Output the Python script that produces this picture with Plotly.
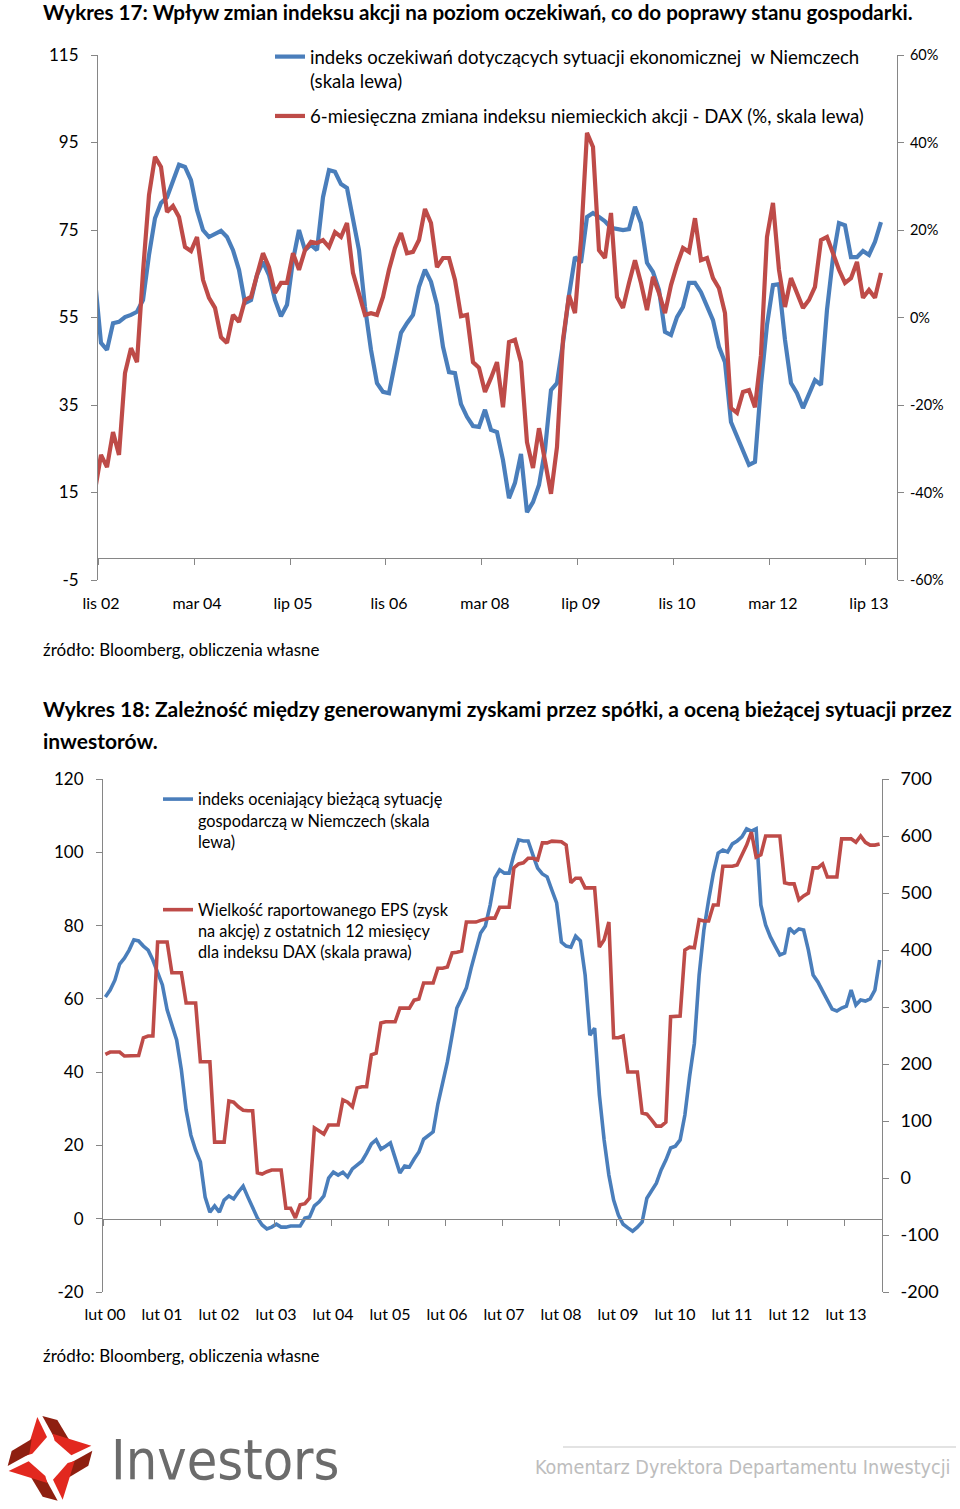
import plotly.graph_objects as go
import pandas as pd

W, H = 960, 1509
FONT = "Lato"
NARROW = "Liberation Sans Narrow, DejaVu Sans Condensed, sans-serif"

# ---------------- Wykres 17 data (monthly, Oct 2002 - Sep 2013) ----------------
months17 = [str(p) for p in pd.period_range("2002-10", periods=132, freq="M")]
labels17 = ["lis 02", "mar 04", "lip 05", "lis 06", "mar 08", "lip 09", "lis 10", "mar 12", "lip 13"]
expect_idx = [63.6,
    49.2, 47.6, 53.7, 54.0, 55.1, 55.6, 56.3, 59.0, 69.3, 77.7,
    81.2, 82.5, 86.4, 89.9, 89.4, 86.4, 79.6, 75.0, 73.4, 74.1,
    74.8, 73.4, 70.4, 65.9, 58.3, 59.0, 64.7, 67.7, 64.7, 59.0,
    55.3, 57.9, 68.1, 75.0, 70.4, 71.6, 70.4, 82.5, 88.7, 88.3,
    85.5, 84.6, 77.3, 70.4, 57.4, 47.6, 40.0, 38.0, 37.7, 44.1,
    51.5, 53.7, 55.6, 62.0, 65.9, 63.2, 57.9, 48.3, 42.5, 42.3,
    35.2, 32.3, 30.2, 30.0, 33.9, 29.3, 28.8, 22.4, 13.7, 17.2,
    23.8, 10.5, 12.8, 16.7, 24.7, 38.4, 40.0, 49.2, 60.1, 68.8,
    67.5, 78.0, 78.9, 78.0, 77.0, 75.5, 75.2, 75.0, 75.2, 80.3,
    76.6, 67.5, 65.4, 61.3, 51.7, 51.0, 55.1, 57.4, 62.9, 62.9,
    60.8, 57.4, 54.4, 48.3, 44.8, 31.1, 27.7, 24.7, 21.3, 22.0,
    39.6, 53.3, 62.4, 62.6, 49.9, 40.0, 37.7, 34.3, 37.3, 40.7,
    39.6, 56.7, 68.6, 76.6, 76.1, 68.8, 68.8, 70.2, 69.3, 72.3,
    76.8]
dax_6m = [-39.5,
    -31.4, -34.2, -26.2, -31.4, -12.7, -7.0, -10.2, 10.4, 28.0, 36.7,
    34.4, 24.1, 25.5, 23.0, 16.1, 15.2, 18.4, 8.6, 4.5, 2.2,
    -4.5, -5.8, 0.6, -1.0, 4.0, 4.7, 9.7, 14.7, 11.5, 5.6,
    7.9, 7.9, 14.7, 10.9, 15.4, 17.3, 17.0, 17.7, 16.1, 19.5,
    18.4, 21.6, 10.2, 5.8, 0.6, 1.0, 0.6, 4.7, 10.9, 15.9,
    19.3, 14.7, 15.0, 17.7, 24.8, 21.6, 11.5, 13.6, 13.6, 8.6,
    0.3, 0.6, -10.2, -11.5, -17.0, -13.8, -10.2, -20.5, -5.6, -5.1,
    -10.2, -28.5, -34.4, -25.3, -32.6, -40.3, -29.6, -5.1, 5.1, 1.0,
    17.7, 42.2, 39.0, 15.4, 13.6, 23.9, 4.7, 2.2, 7.9, 13.1,
    7.9, 1.7, 9.3, 5.6, 1.0, 7.4, 12.0, 15.9, 15.0, 22.7,
    13.1, 13.6, 9.0, 6.7, 1.0, -20.7, -21.8, -17.0, -16.6, -20.5,
    -8.6, 18.4, 26.2, 10.9, 2.4, 9.0, 5.6, 2.2, 4.0, 7.0,
    17.7, 18.4, 14.7, 10.9, 7.9, 9.0, 12.7, 4.5, 6.3, 4.5,
    10.2]
left17_ticks = [-5, 15, 35, 55, 75, 95, 115]
right17_ticks = [-60, -40, -20, 0, 20, 40, 60]

# ---------------- Wykres 18 data (monthly, Feb 2000 - Sep 2013) ----------------
months18 = [str(p) for p in pd.period_range("2000-02", periods=164, freq="M")]
labels18 = ["lut %02d" % y for y in range(0, 14)]
current_idx = [
    60.5, 62.4, 65.1, 69.5, 71.1, 73.3, 76.1, 75.8, 74.4, 73.3,
    70.6, 67.3, 63.8, 57.0, 52.9, 48.8, 40.6, 29.7, 22.8, 18.7,
    15.5, 5.9, 1.8, 3.5, 1.8, 5.1, 6.2, 5.4, 7.3, 8.9,
    5.9, 3.2, 0.2, -1.7, -2.8, -2.3, -1.5, -2.3, -2.3, -2.0,
    -2.0, -2.0, 0.2, 0.5, 3.5, 4.6, 6.2, 11.1, 12.7, 11.9,
    12.7, 11.4, 13.6, 14.7, 15.7, 17.9, 20.4, 21.5, 19.0, 19.8,
    20.7, 16.6, 12.5, 14.4, 14.1, 16.3, 18.2, 21.7, 22.8, 23.7,
    31.3, 37.3, 42.8, 50.1, 57.5, 60.2, 63.0, 68.4, 73.3, 78.0,
    79.9, 85.6, 93.0, 95.2, 94.3, 94.3, 99.3, 103.4, 103.1, 103.1,
    99.3, 95.7, 94.1, 93.3, 89.7, 86.2, 75.5, 74.4, 74.1, 77.1,
    75.8, 66.5, 50.1, 52.0, 33.8, 21.5, 11.9, 5.1, 1.0, -1.5,
    -2.5, -3.4, -2.3, -0.9, 5.6, 7.8, 9.7, 13.3, 16.0, 19.3,
    19.8, 21.5, 28.3, 38.9, 47.9, 66.5, 78.8, 87.0, 94.3, 99.8,
    100.6, 100.1, 102.3, 103.1, 104.2, 106.4, 105.8, 106.4, 85.6, 80.2,
    76.9, 74.4, 72.0, 72.5, 79.3, 78.0, 79.1, 78.8, 73.3, 66.5,
    64.6, 62.1, 59.7, 57.2, 56.7, 57.5, 58.0, 62.4, 58.3, 59.7,
    59.4, 60.0, 62.4, 70.6]
eps_12m = [
    217, 221, 221, 221, 214, 214, 214, 215, 246, 249,
    249, 414, 414, 414, 360, 360, 360, 307, 307, 307,
    204, 204, 204, 63, 63, 63, 135, 133, 125, 119,
    118, 118, 9, 7, 11, 14, 14, 14, -53, -53,
    -70, -47, -45, -35, 88, 82, 77, 93, 93, 93,
    137, 133, 125, 158, 160, 160, 216, 219, 272, 274,
    274, 274, 298, 298, 298, 312, 314, 342, 342, 342,
    368, 368, 370, 395, 396, 398, 449, 449, 449, 452,
    454, 456, 456, 475, 475, 475, 544, 551, 553, 561,
    561, 558, 588, 588, 591, 590, 590, 584, 518, 526,
    526, 509, 509, 509, 405, 418, 449, 246, 246, 249,
    186, 186, 186, 114, 112, 102, 91, 91, 98, 283,
    284, 284, 400, 405, 404, 453, 451, 451, 479, 479,
    547, 547, 547, 549, 567, 584, 607, 563, 567, 600,
    600, 600, 600, 518, 516, 516, 488, 495, 500, 544,
    544, 551, 528, 528, 528, 595, 595, 595, 589, 600,
    589, 584, 584, 586]
left18_ticks = [-20, 0, 20, 40, 60, 80, 100, 120]
right18_ticks = [-200, -100, 0, 100, 200, 300, 400, 500, 600, 700]

BLUE = "#4A7EBB"
RED = "#BE4B48"
AX = "#868686"


def fx(x):
    return x / W


def fy(y):
    return 1 - y / H


x17 = list(range(len(months17)))
x18 = list(range(len(months18)))

fig = go.Figure()
fig.add_trace(go.Scatter(x=x17, y=expect_idx, mode="lines", xaxis="x", yaxis="y",
                         line=dict(color=BLUE, width=4.2), legend="legend", legendgroup="a",
                         name="indeks oczekiwań dotyczących sytuacji ekonomicznej  w Niemczech<br>(skala lewa)",
                         customdata=months17, hovertemplate="%{customdata}: %{y}<extra></extra>"))
fig.add_trace(go.Scatter(x=x17, y=dax_6m, mode="lines", xaxis="x", yaxis="y2",
                         line=dict(color=RED, width=4.2), legend="legend", legendgroup="b",
                         name="6-miesięczna zmiana indeksu niemieckich akcji - DAX (%, skala lewa)",
                         customdata=months17, hovertemplate="%{customdata}: %{y}%<extra></extra>"))
fig.add_trace(go.Scatter(x=x18, y=current_idx, mode="lines", xaxis="x2", yaxis="y3",
                         line=dict(color=BLUE, width=3.6), legend="legend2", legendgroup="c",
                         name="indeks oceniający bieżącą sytuację<br>gospodarczą w Niemczech (skala<br>lewa)",
                         customdata=months18, hovertemplate="%{customdata}: %{y}<extra></extra>"))
fig.add_trace(go.Scatter(x=x18, y=eps_12m, mode="lines", xaxis="x2", yaxis="y4",
                         line=dict(color=RED, width=3.6), legend="legend2", legendgroup="d",
                         name="Wielkość raportowanego EPS (zysk<br>na akcję) z ostatnich 12 miesięcy<br>dla indeksu DAX (skala prawa)",
                         customdata=months18, hovertemplate="%{customdata}: %{y}<extra></extra>"))

# domains
y17 = [fy(580), fy(55)]
y18 = [fy(1292), fy(779)]
zero17 = y17[0] + (0 - (-5)) / 120 * (y17[1] - y17[0])
zero18 = y18[0] + (0 - (-20)) / 140 * (y18[1] - y18[0])

tickfont = dict(family=FONT, size=17, color="#000")
common = dict(showgrid=False, zeroline=False, showline=True, linecolor=AX, linewidth=1,
              ticks="outside", ticklen=6, tickcolor=AX, tickwidth=1, fixedrange=True, automargin=False)

fig.update_layout(
    width=W, height=H, margin=dict(l=0, r=0, t=0, b=0, autoexpand=False),
    paper_bgcolor="white", plot_bgcolor="rgba(0,0,0,0)",
    font=dict(family=FONT, color="#000"),
    xaxis=dict(domain=[fx(98), fx(897)], range=[0.5, 133.67], anchor="free", position=zero17,
               tickvals=[1 + 16 * k - 0.5 for k in range(len(labels17))], ticktext=labels17,
               ticklabelshift=3, ticklabelstandoff=25, tickfont=dict(family=FONT, size=16, color="#000"),
               **common),
    yaxis=dict(domain=y17, range=[-5, 115], anchor="x", tickvals=left17_ticks,
               ticktext=[str(v) for v in left17_ticks], ticklabelstandoff=9, tickfont=tickfont, **common),
    yaxis2=dict(domain=y17, range=[-60, 60], anchor="x", overlaying="y", side="right",
                tickvals=right17_ticks, ticktext=["%d%%" % v for v in right17_ticks],
                ticklabelstandoff=3, tickfont=dict(family=FONT, size=14.5, color="#000"), **common),
    xaxis2=dict(domain=[fx(103), fx(882)], range=[-0.5, 163.5], anchor="free", position=zero18,
                tickvals=[12 * k - 0.5 for k in range(len(labels18))], ticktext=labels18,
                ticklabelshift=2, ticklabelstandoff=75, tickfont=dict(family=FONT, size=16, color="#000"),
                **common),
    yaxis3=dict(domain=y18, range=[-20, 120], anchor="x2", tickvals=left18_ticks,
                ticktext=[str(v) for v in left18_ticks], ticklabelstandoff=9, tickfont=tickfont, **common),
    yaxis4=dict(domain=y18, range=[-200, 700], anchor="x2", overlaying="y3", side="right",
                tickvals=right18_ticks, ticktext=[str(v) for v in right18_ticks],
                ticklabelstandoff=8, tickfont=dict(family=FONT, size=18, color="#000"), **common),
    legend=dict(x=fx(270), y=fy(38), xanchor="left", yanchor="top", bgcolor="rgba(0,0,0,0)",
                font=dict(family=FONT, size=18.6, color="#000"), valign="top", tracegroupgap=8,
                traceorder="grouped"),
    legend2=dict(x=fx(158), y=fy(782), xanchor="left", yanchor="top", bgcolor="rgba(0,0,0,0)",
                 font=dict(family=FONT, size=16.3, color="#000"), valign="top", tracegroupgap=44,
                 traceorder="grouped"),
    hovermode="closest",
)

ann = []


def text(x, y, s, size, color="#000", xanchor="left", bold=False, family=FONT):
    ann.append(dict(x=fx(x), y=fy(y), xref="paper", yref="paper", text=("<b>%s</b>" % s) if bold else s,
                    showarrow=False, xanchor=xanchor, yanchor="middle", align="left",
                    font=dict(family=family, size=size, color=color)))


text(41, 12, "Wykres 17: Wpływ zmian indeksu akcji na poziom oczekiwań, co do poprawy stanu gospodarki.", 20.6, bold=True)
text(41, 649, "źródło: Bloomberg, obliczenia własne", 17)
text(41, 708, "Wykres 18: Zależność między generowanymi zyskami przez spółki, a oceną bieżącej sytuacji przez", 21.0, bold=True)
text(41, 740, "inwestorów.", 21.0, bold=True)
text(41, 1355, "źródło: Bloomberg, obliczenia własne", 17)
text(109, 1460, "Investors", 55.3, color="#6B6B6B", family=NARROW)
text(533, 1467, "Komentarz Dyrektora Departamentu Inwestycji", 19.6, color="#BDBDBD", family=NARROW)
fig.update_layout(annotations=ann)

# footer rule and logo
shapes = [dict(type="line", xref="paper", yref="paper", x0=fx(563), x1=fx(956), y0=fy(1447), y1=fy(1447),
               line=dict(color="#DADADA", width=1.5))]

CX, CY = 150, 160
red_blade = [(112, 36), (141, 96), (97, 146), (76, 152)]
brown_blade = [(127, 33), (172, 45), (208, 105), (163, 98)]


def rot(pts, k):
    out = []
    for (x, y) in pts:
        dx, dy = x - CX, y - CY
        for _ in range(k):
            dx, dy = -dy, dx
        out.append((CX + dx, CY + dy))
    return out


def to_path(pts):
    segs = []
    for i, (x, y) in enumerate(pts):
        X = fx(x / 3.0)
        Y = fy(1405 + y / 3.0)
        segs.append(("M" if i == 0 else "L") + "%.5f,%.5f" % (X, Y))
    return " ".join(segs) + " Z"


for k in range(4):
    shapes.append(dict(type="path", xref="paper", yref="paper", path=to_path(rot(brown_blade, k)),
                       fillcolor="#8E1F10", line=dict(width=0)))
    shapes.append(dict(type="path", xref="paper", yref="paper", path=to_path(rot(red_blade, k)),
                       fillcolor="#E2281F", line=dict(width=0)))
fig.update_layout(shapes=shapes)

fig.write_html("out.html",
               config={"displayModeBar": False, "displaylogo": False},
               post_script="document.body.style.margin='0';document.body.style.padding='0';"
                           "document.documentElement.style.overflow='hidden';")
